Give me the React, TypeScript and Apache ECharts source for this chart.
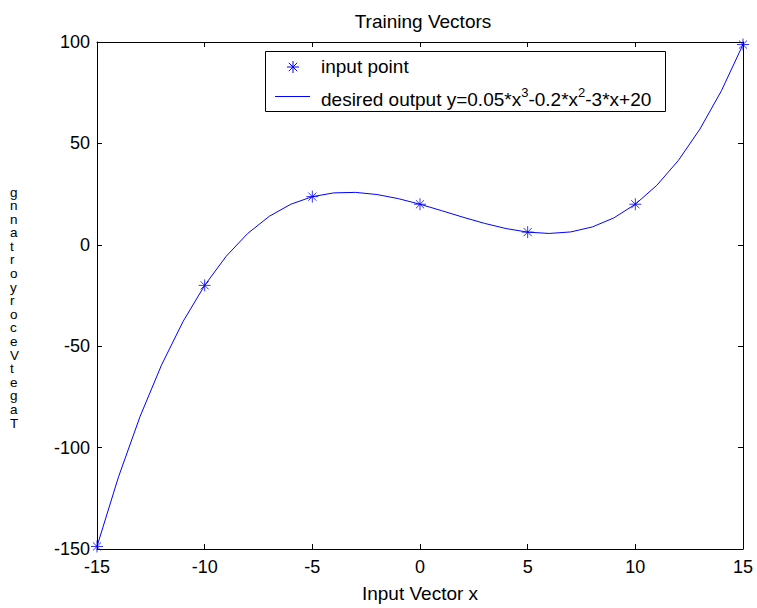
import React, { useEffect, useRef } from "react";
import * as echarts from "echarts";

const xValues = [-15, -14, -13, -12, -11, -10, -9, -8, -7, -6, -5, -4, -3, -2, -1, 0, 1, 2, 3, 4, 5, 6, 7, 8, 9, 10, 11, 12, 13, 14, 15];
const desiredOutput = [-148.75, -114.4, -84.65, -59.2, -37.75, -20, -5.65, 5.6, 14.05, 20, 23.75, 25.6, 25.85, 24.8, 22.75, 20, 16.85, 13.6, 10.55, 8, 6.25, 5.6, 6.35, 8.8, 13.25, 20, 29.35, 41.6, 57.05, 76, 98.75];
const inputX = [-15, -10, -5, 0, 5, 10, 15];
const inputY = [-148.75, -20, 23.75, 20, 6.25, 20, 98.75];
const title = "Training Vectors";
const xLabel = "Input Vector x";
const yLabelChars = ["g", "n", "n", "a", "t", "r", "o", "y", "r", "o", "c", "e", "V", "t", "e", "g", "a", "T"];
const legendNames = ["input point", "desired output"];

const FONT = '"Liberation Sans", Arial, sans-serif';
const BLUE = "#0000ff";
const STAR = "path://M5,0L5,10M0,5L10,5M1.6,1.6L8.4,8.4M1.6,8.4L8.4,1.6";

export default function App() {
  const ref = useRef<HTMLDivElement>(null);
  useEffect(() => {
    if (!ref.current) return;
    const chart = echarts.init(ref.current, null, { renderer: "svg" });
    const axisCommon = {
      type: "value" as const,
      axisLine: { show: true, onZero: false, lineStyle: { color: "#000", width: 1 } },
      axisTick: { show: true, inside: true, length: 5, lineStyle: { color: "#000" } },
      splitLine: { show: false },
    };
    chart.setOption({
      animation: false,
      backgroundColor: "#fff",
      textStyle: { fontFamily: FONT },
      title: {
        text: title,
        left: 418,
        textAlign: "center",
        top: 7,
        textStyle: { fontFamily: FONT, fontSize: 19, fontWeight: "normal", color: "#000" },
      },
      grid: { left: 97, right: 14, top: 42, bottom: 59, containLabel: false },
      xAxis: [
        {
          ...axisCommon,
          position: "bottom",
          min: -15,
          max: 15,
          interval: 5,
          axisLabel: { color: "#000", fontSize: 18, fontFamily: FONT, margin: 9 },
          name: xLabel,
          nameLocation: "middle",
          nameGap: 35,
          nameTextStyle: { color: "#000", fontSize: 19, fontFamily: FONT },
        },
        {
          ...axisCommon,
          position: "top",
          min: -15,
          max: 15,
          interval: 5,
          axisLabel: { show: false },
        },
      ],
      yAxis: [
        {
          ...axisCommon,
          position: "left",
          min: -150,
          max: 100,
          interval: 50,
          axisLabel: { color: "#000", fontSize: 18, fontFamily: FONT, margin: 7 },
        },
        {
          ...axisCommon,
          position: "right",
          min: -150,
          max: 100,
          interval: 50,
          axisLabel: { show: false },
        },
      ],
      series: [
        {
          name: legendNames[1],
          type: "line",
          data: xValues.map((x, i) => [x, desiredOutput[i]]),
          showSymbol: false,
          symbol: "none",
          lineStyle: { color: BLUE, width: 1 },
          itemStyle: { color: BLUE },
          z: 2,
        },
        {
          name: legendNames[0],
          type: "scatter",
          data: inputX.map((x, i) => [x, inputY[i]]),
          symbol: STAR,
          symbolSize: 12,
          itemStyle: { color: "none", borderColor: BLUE, borderWidth: 1 },
          z: 3,
        },
      ],
      graphic: [
        {
          type: "text",
          left: 10,
          top: 185,
          style: {
            text: yLabelChars.join("\n"),
            fontFamily: FONT,
            fontSize: 13.5,
            lineHeight: 13.6,
            fill: "#000",
            align: "center",
          },
        },
        {
          type: "rect",
          shape: { x: 265.5, y: 51.5, width: 400, height: 60 },
          style: { fill: "#fff", stroke: "#000", lineWidth: 1 },
          z: 10,
        },
        {
          type: "group",
          x: 293,
          y: 67,
          z: 11,
          children: [
            { type: "line", shape: { x1: 0, y1: -6, x2: 0, y2: 6 }, style: { stroke: BLUE, lineWidth: 1 }, z: 11 },
            { type: "line", shape: { x1: -6, y1: 0, x2: 6, y2: 0 }, style: { stroke: BLUE, lineWidth: 1 }, z: 11 },
            { type: "line", shape: { x1: -4.2, y1: -4.2, x2: 4.2, y2: 4.2 }, style: { stroke: BLUE, lineWidth: 1 }, z: 11 },
            { type: "line", shape: { x1: -4.2, y1: 4.2, x2: 4.2, y2: -4.2 }, style: { stroke: BLUE, lineWidth: 1 }, z: 11 },
          ],
        },
        {
          type: "line",
          shape: { x1: 275, y1: 96.5, x2: 310, y2: 96.5 },
          style: { stroke: BLUE, lineWidth: 1 },
          z: 11,
        },
        {
          type: "text",
          x: 321,
          y: 66,
          z: 11,
          style: {
            text: legendNames[0],
            fontFamily: FONT,
            fontSize: 19,
            fill: "#000",
            verticalAlign: "middle",
          },
        },
        {
          type: "text",
          x: 321,
          y: 85,
          z: 11,
          style: {
            text: "{n|desired output y=0.05*x}{s|3}{n|-0.2*x}{s|2}{n|-3*x+20}",
            fontFamily: FONT,
            fill: "#000",
            rich: {
              n: { fontSize: 19, fontFamily: FONT, fill: "#000", lineHeight: 24, verticalAlign: "bottom" },
              s: { fontSize: 13, fontFamily: FONT, fill: "#000", lineHeight: 24, verticalAlign: "bottom", padding: [0, 0, 10, 0] },
            },
          },
        },
      ],
    });
    return () => chart.dispose();
  }, []);
  return (
    <div
      ref={ref}
      style={{ position: "fixed", left: 0, top: 0, width: 757, height: 608 }}
    />
  );
}
